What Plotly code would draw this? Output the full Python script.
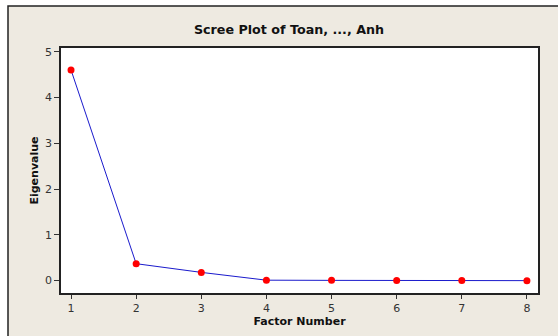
import plotly.graph_objects as go

factors = [1, 2, 3, 4, 5, 6, 7, 8]
eigenvalues = [4.60, 0.37, 0.18, 0.01, 0.006, 0.003, 0.001, 0.0]
x_ticks = [1, 2, 3, 4, 5, 6, 7, 8]
y_ticks = [0, 1, 2, 3, 4, 5]

W, H = 558, 336
L, R, T, B = 61, 20, 48, 43
pw, ph = W - L - R, H - T - B

def px_x(p):
    return (p - L) / pw

def px_y(p):
    return (H - B - p) / ph

font = "DejaVu Sans"

fig = go.Figure()
fig.add_trace(go.Scatter(
    x=factors, y=eigenvalues, mode="lines+markers",
    line=dict(color="#1a1acc", width=1),
    marker=dict(color="#ff0000", size=7),
    showlegend=False, cliponaxis=False,
))

fig.add_shape(type="rect", xref="paper", yref="paper", layer="below",
              x0=px_x(8), x1=px_x(570), y0=px_y(345), y1=px_y(6),
              fillcolor="#eeeae1", line=dict(color="#222222", width=1.5))
fig.add_shape(type="rect", xref="paper", yref="paper", layer="below",
              x0=0, x1=1, y0=0, y1=1,
              fillcolor="white", line=dict(width=0))

fig.update_layout(
    width=W, height=H,
    margin=dict(l=L, r=R, t=T, b=B, autoexpand=False),
    paper_bgcolor="white", plot_bgcolor="white",
    title=dict(text="<b>Scree Plot of Toan, ..., Anh</b>", x=289 / W, xanchor="center",
               y=1 - 30 / H, yanchor="middle",
               font=dict(family=font, size=12.7, color="#111111")),
    font=dict(family=font, size=11, color="#333333"),
    xaxis=dict(range=[0.846, 8.17], tickvals=x_ticks, ticks="outside", ticklen=4,
               tickcolor="#333333", showgrid=False, zeroline=False, automargin=False,
               showline=True, linecolor="#222222", linewidth=1.5, mirror=True,
               title=dict(text="<b>Factor Number</b>", standoff=1,
                          font=dict(family=font, size=11, color="#111111"))),
    yaxis=dict(range=[-0.27, 5.08], tickvals=y_ticks, ticks="outside", ticklen=5,
               tickcolor="#333333", showgrid=False, zeroline=False, automargin=False,
               showline=True, linecolor="#222222", linewidth=1.5, mirror=True,
               title=dict(text="<b>Eigenvalue</b>", standoff=4,
                          font=dict(family=font, size=11, color="#111111"))),
)

fig.write_html("out.html", config={"displayModeBar": False},
               post_script="document.body.style.margin='0';document.body.style.overflow='hidden';")
